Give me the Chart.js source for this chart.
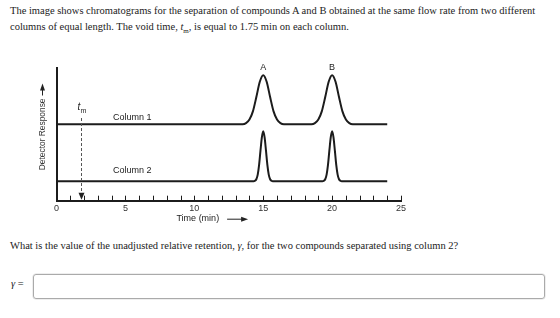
<!DOCTYPE html>
<html>
<head>
<meta charset="utf-8">
<script src="https://cdn.jsdelivr.net/npm/chart.js@4/dist/chart.umd.min.js"></script>
<style>
  body {
    margin: 0;
    width: 560px;
    height: 318px;
    background: #fff;
    position: relative;
    overflow: hidden;
    font-family: "Liberation Serif", "Times New Roman", serif;
    color: #222;
  }
  .txt {
    position: absolute;
    left: 10px;
    font-size: 10.5px;
    line-height: 16px;
    white-space: nowrap;
  }
  #intro { top: 3px; }
  #question { top: 238px; }
  #chartBox { position: absolute; left: 0; top: 50px; width: 560px; height: 180px; }
  #gammaLabel { position: absolute; left: 11px; top: 278px; font-size: 10.5px; }
  #answer {
    position: absolute;
    left: 33px;
    top: 274px;
    width: 510px;
    height: 23px;
    border: 1px solid #aaa;
    border-radius: 3px;
    box-shadow: 0 0 0 0.5px #ddd;
  }
</style>
</head>
<body>
<div class="txt" id="intro">The image shows chromatograms for the separation of compounds A and B obtained at the same flow rate from two different<br>columns of equal length. The void time, <i>t</i><sub style="font-size:7px">m</sub>, is equal to 1.75 min on each column.</div>
<div id="chartBox"><canvas id="plot" width="560" height="180"></canvas></div>
<div class="txt" id="question">What is the value of the unadjusted relative retention, <i>γ</i>, for the two compounds separated using column 2?</div>
<div id="gammaLabel"><i>γ</i> =</div>
<div id="answer"></div>

<script>
// tiempos (min) y respuesta del detector (unidades arbitrarias)
const col1Times = [0, 13.5, 13.75, 14, 14.25, 14.5, 14.75, 15, 15.25, 15.5, 15.75, 16, 16.25, 16.5,
  18.5, 18.75, 19, 19.25, 19.5, 19.75, 20, 20.25, 20.5, 20.75, 21, 21.25, 21.5, 24];
const col1Values = [7.5, 7.5, 7.6, 7.95, 8.75, 10.15, 11.65, 12.3, 11.65, 10.15, 8.75, 7.95, 7.6, 7.5,
  7.5, 7.6, 7.95, 8.75, 10.15, 11.65, 12.3, 11.65, 10.15, 8.75, 7.95, 7.6, 7.5, 7.5];

const col2Times = [0, 14.3, 14.4, 14.5, 14.6, 14.7, 14.8, 14.9, 15, 15.1, 15.2, 15.3, 15.4, 15.5, 15.6, 15.7,
  19.3, 19.4, 19.5, 19.6, 19.7, 19.8, 19.9, 20, 20.1, 20.2, 20.3, 20.4, 20.5, 20.6, 20.7, 24];
const col2Values = [1.9, 1.9, 1.95, 2.1, 2.55, 3.5, 4.9, 6.2, 6.8, 6.2, 4.9, 3.5, 2.55, 2.1, 1.95, 1.9,
  1.9, 1.95, 2.1, 2.55, 3.5, 4.9, 6.2, 6.8, 6.2, 4.9, 3.5, 2.55, 2.1, 1.95, 1.9, 1.9];

const peakNames = ["A", "B"];
const peakTimes = [15, 20];
const tmTime = 1.75;
const xTicks = [0, 5, 10, 15, 20, 25];

const ink = "#1c1c1c";
const sans = "'Liberation Sans', Arial, sans-serif";
const yTitle = "Detector Response";
const yTitleSize = 8.4;

let toPoints = (times, values) => times.map((t, i) => ({ x: t, y: values[i] }));

// dibuja marcas, flechas y rotulos del cromatograma
const anotaciones = {
  id: "anotaciones",
  afterDraw(chart) {
    const { ctx, chartArea, scales } = chart;
    const x = scales.x;
    const y = scales.y;
    ctx.save();

    // marcas del eje x hacia arriba
    ctx.strokeStyle = ink;
    ctx.lineWidth = 1;
    x.ticks.forEach((t) => {
      const px = Math.round(x.getPixelForValue(t.value)) + 0.5;
      ctx.beginPath();
      ctx.moveTo(px, chartArea.bottom);
      ctx.lineTo(px, chartArea.bottom - 5);
      ctx.stroke();
    });

    // flecha punteada de tm
    const tx = Math.round(x.getPixelForValue(tmTime)) + 0.5;
    ctx.strokeStyle = "#555";
    ctx.setLineDash([3, 2]);
    ctx.beginPath();
    ctx.moveTo(tx, y.getPixelForValue(8.1));
    ctx.lineTo(tx, chartArea.bottom - 7);
    ctx.stroke();
    ctx.setLineDash([]);
    ctx.fillStyle = "#222";
    ctx.beginPath();
    ctx.moveTo(tx, chartArea.bottom - 1);
    ctx.lineTo(tx - 3, chartArea.bottom - 8);
    ctx.lineTo(tx + 3, chartArea.bottom - 8);
    ctx.closePath();
    ctx.fill();

    ctx.fillStyle = "#222";
    ctx.textBaseline = "middle";
    ctx.textAlign = "left";
    ctx.font = "italic 10px " + sans;
    ctx.fillText("t", tx - 4, y.getPixelForValue(9.15));
    ctx.font = "7px " + sans;
    ctx.fillText("m", tx - 1, y.getPixelForValue(8.8));

    // rotulos de columnas
    ctx.font = "9px " + sans;
    ctx.fillText("Column 1", x.getPixelForValue(4.1), y.getPixelForValue(8.15));
    ctx.fillText("Column 2", x.getPixelForValue(4.1), y.getPixelForValue(2.95));

    // picos A y B
    ctx.textAlign = "center";
    peakNames.forEach((n, i) => {
      ctx.fillText(n, x.getPixelForValue(peakTimes[i]), y.getPixelForValue(13.07));
    });

    // Time (min) con flecha
    const ty = chartArea.bottom + 18;
    const tcx = x.getPixelForValue(10.25);
    ctx.fillText("Time (min)", tcx, ty);
    const tw = ctx.measureText("Time (min)").width;
    const ax0 = tcx + tw / 2 + 8;
    ctx.strokeStyle = "#222";
    ctx.beginPath();
    ctx.moveTo(ax0, ty + 0.5);
    ctx.lineTo(ax0 + 16, ty + 0.5);
    ctx.stroke();
    ctx.beginPath();
    ctx.moveTo(ax0 + 21, ty + 0.5);
    ctx.lineTo(ax0 + 14, ty - 2);
    ctx.lineTo(ax0 + 14, ty + 3);
    ctx.closePath();
    ctx.fill();

    // flecha del titulo vertical
    ctx.font = yTitleSize + "px " + sans;
    const yw = ctx.measureText(yTitle).width;
    const ycx = 42.5;
    const top = (chartArea.top + chartArea.bottom) / 2 - yw / 2;
    ctx.beginPath();
    ctx.moveTo(ycx, top - 3);
    ctx.lineTo(ycx, top - 10);
    ctx.stroke();
    ctx.beginPath();
    ctx.moveTo(ycx, top - 15);
    ctx.lineTo(ycx - 2.5, top - 8);
    ctx.lineTo(ycx + 2.5, top - 8);
    ctx.closePath();
    ctx.fill();

    ctx.restore();
  },
};

let plotRef = document.getElementById("plot");

let config = {
  type: "line",
  data: {
    datasets: [
      {
        label: "Column 1",
        data: toPoints(col1Times, col1Values),
        borderColor: ink,
        borderWidth: 2,
        pointRadius: 0,
        cubicInterpolationMode: "monotone",
        fill: false,
      },
      {
        label: "Column 2",
        data: toPoints(col2Times, col2Values),
        borderColor: ink,
        borderWidth: 2,
        pointRadius: 0,
        cubicInterpolationMode: "monotone",
        fill: false,
      },
    ],
  },
  options: {
    responsive: false,
    animation: false,
    devicePixelRatio: 1,
    layout: { padding: { left: 37.5, right: 159, top: 18, bottom: 14.5 } },
    plugins: { legend: { display: false }, tooltip: { enabled: false } },
    scales: {
      x: {
        type: "linear",
        min: 0,
        max: 25,
        ticks: {
          stepSize: 1,
          autoSkip: false,
          maxRotation: 0,
          padding: 2,
          color: "#333",
          font: { size: 9, family: sans },
          callback: (v) => (xTicks.includes(v) ? String(v) : ""),
        },
        grid: { display: false, drawTicks: false },
        border: { color: ink, width: 2 },
      },
      y: {
        min: 0,
        max: 13,
        ticks: { display: false },
        grid: { display: false, drawTicks: false },
        border: { color: ink, width: 2 },
        title: {
          display: true,
          text: yTitle,
          color: "#333",
          font: { size: yTitleSize, family: sans },
          padding: { top: 0, bottom: 9 },
        },
      },
    },
  },
  plugins: [anotaciones],
};

let chart1 = new Chart(plotRef, config);
</script>
</body>
</html>
